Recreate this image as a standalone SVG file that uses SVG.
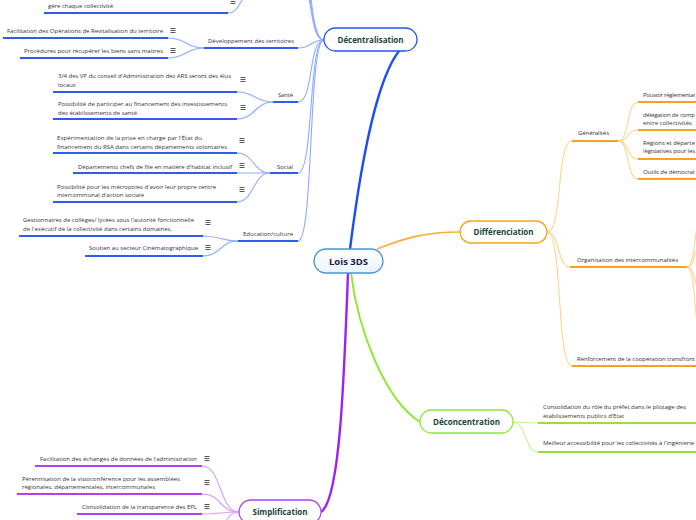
<svg xmlns="http://www.w3.org/2000/svg" xmlns:xlink="http://www.w3.org/1999/xlink" width="696" height="520" viewBox="0 0 696 520">
<defs>
<style>
.t{font-family:"Open Sans","Noto Sans","Liberation Sans",sans-serif;font-size:6px;fill:#333;}
.h{font-family:"Open Sans","Noto Sans","Liberation Sans",sans-serif;font-size:8px;font-weight:bold;fill:#17463a;text-anchor:middle;}
.c{fill:none;stroke-width:1.1;}
.u{fill:none;stroke-width:2;}
.cb{stroke:#8eaaff;} .ub{stroke:#2e5cf0;}
.co{stroke:#fcd48e;} .uo{stroke:#f7a21b;}
.cg{stroke:#c4f08c;} .ug{stroke:#8ee53a;}
.cp{stroke:#d7a0fa;} .up{stroke:#b040f2;}
</style>
<g id="menu"><path d="M-2.5,-2.5H2.5M-2.5,-0.5H2.5M-2.5,1.5H2.5" stroke="#444" stroke-width="0.9" fill="none"/></g>
<linearGradient id="cg" x1="0" y1="0" x2="0" y2="1"><stop offset="0" stop-color="#ffffff"/><stop offset="1" stop-color="#eaf4fd"/></linearGradient>
</defs>
<rect width="696" height="520" fill="#ffffff"/>

<g id="connectors">
<path d="M350,249 C360,170 380,40 417,40" fill="none" stroke="#1f4ff0" stroke-width="2.4"/>
<path d="M377,249 C405,238 425,232 460,232" fill="none" stroke="#f9ad3c" stroke-width="1.6"/>
<path d="M351,273 C358,330 385,400 420,422" fill="none" stroke="#8ee830" stroke-width="2"/>
<path d="M348,273 C344,380 340,500 321,512" fill="none" stroke="#a020f0" stroke-width="2.4"/>
<path class="c cb" d="M324,40 C308,40 314,-20 298,-20"/>
<path class="c cb" d="M324,40 C306,40 312,-60 296,-60"/>
<path class="c cb" d="M324,40 C305,40 311,-100 295,-100"/>
<path class="c cb" d="M298,48 C312,48 310,40 324,40"/>
<path class="c cb" d="M298,102 C314,102 308,40 324,40"/>
<path class="c cb" d="M298,173 C314,173 308,40 324,40"/>
<path class="c cb" d="M298,241 C314,241 308,40 324,40"/>
<path class="c cb" d="M228,13 C242,13 240,-10 256,-10"/>
<path class="c cb" d="M168,38 C186,38 186,48 204,48"/>
<path class="c cb" d="M168,58 C186,58 186,48 204,48"/>
<path class="c cb" d="M237,92 C255,92 255,102 273,102"/>
<path class="c cb" d="M237,119 C255,119 255,102 273,102"/>
<path class="c cb" d="M237,153 C254,153 253,173 270,173"/>
<path class="c cb" d="M237,173 H270"/>
<path class="c cb" d="M237,202 C254,202 253,173 270,173"/>
<path class="c cb" d="M203,236 C220,236 221,241 238,241"/>
<path class="c cb" d="M203,256 C220,256 221,241 238,241"/>
<path class="c co" d="M547,232 C563,232 556,141 572,141"/>
<path class="c co" d="M547,232 C560,232 557,267 570,267"/>
<path class="c co" d="M547,232 C563,232 556,366 572,366"/>
<path class="c co" d="M618,141 C630,141 626,102 638,102"/>
<path class="c co" d="M618,141 C630,141 626,130 638,130"/>
<path class="c co" d="M618,141 C630,141 626,159 638,159"/>
<path class="c co" d="M618,141 C630,141 626,179 638,179"/>
<path class="c co" d="M687,267 C697,267 693,210 705,210"/>
<path class="c co" d="M687,267 C697,267 693,240 705,240"/>
<path class="c co" d="M687,267 C697,267 693,295 705,295"/>
<path class="c co" d="M687,267 C697,267 693,345 705,345"/>
<path class="c cg" d="M513,422 C525,422 526,423 538,423"/>
<path class="c cg" d="M513,422 C526,422 525,452 538,452"/>
<path class="c cp" d="M202,466 C222,466 219,512 239,512"/>
<path class="c cp" d="M202,494 C222,494 219,512 239,512"/>
<path class="c cp" d="M202,514 C222,514 219,512 239,512"/>
<path class="c cp" d="M239,512 C222,512 225,540 205,540"/>
</g>

<g id="lois3ds">
<rect x="314" y="249" width="69" height="24" rx="12" fill="url(#cg)" stroke="#4a94d4" stroke-width="1.3"/>
<text x="348.5" y="264.5" class="h" style="font-size:9.5px;fill:#17224a" textLength="39">Lois 3DS</text>
</g>

<g id="decentralisation">
<rect x="324" y="28" width="93" height="23" rx="11.5" fill="#fff" stroke="#1f55f0" stroke-width="1.3"/>
<text x="370.5" y="42.8" class="h" textLength="66">Décentralisation</text>
</g>

<g id="n-gere">
<text x="48" y="8" class="t" textLength="65">gère chaque collectivité</text>
<use xlink:href="#menu" x="233" y="2"/>
<path class="u ub" d="M44,13 H228"/>
</g>
<g id="n-devterr">
<text x="208" y="43" class="t" textLength="86">Développement des territoires</text>
<path class="u ub" d="M204,48 H298"/>
</g>
<g id="n-facil-ort">
<text x="7" y="33" class="t" textLength="156">Facilitation des Opérations de Revitalisation du territoire</text>
<use xlink:href="#menu" x="173" y="31"/>
<path class="u ub" d="M3,38 H168"/>
</g>
<g id="n-biens">
<text x="24" y="53" class="t" textLength="139">Procédures pour récupérer les biens sans maitres</text>
<use xlink:href="#menu" x="173" y="51"/>
<path class="u ub" d="M20,58 H168"/>
</g>
<g id="n-sante">
<text x="278" y="97" class="t" textLength="15">Santé</text>
<path class="u ub" d="M273,102 H298"/>
</g>
<g id="n-ars">
<text x="58" y="78" class="t" textLength="173">3/4 des VP du conseil d'Administration des ARS seront des élus</text>
<text x="58" y="87" class="t" textLength="18">locaux</text>
<use xlink:href="#menu" x="243" y="80"/>
<path class="u ub" d="M53,92 H237"/>
</g>
<g id="n-invest">
<text x="58" y="106" class="t" textLength="169">Possibilité de participer au financement des investissements</text>
<text x="58" y="115" class="t" textLength="79">des établissements de santé</text>
<use xlink:href="#menu" x="243" y="108"/>
<path class="u ub" d="M53,119 H237"/>
</g>
<g id="n-social">
<text x="277" y="169" class="t" textLength="16">Social</text>
<path class="u ub" d="M270,173 H298"/>
</g>
<g id="n-rsa">
<text x="57" y="140" class="t" textLength="145">Expérimentation de la prise en charge par l'État du</text>
<text x="57" y="149" class="t" textLength="170">financement du RSA dans certains départements volontaires</text>
<use xlink:href="#menu" x="242" y="141"/>
<path class="u ub" d="M53,153 H237"/>
</g>
<g id="n-habitat">
<text x="78" y="169" class="t" textLength="154">Départements chefs de file en matière d'habitat inclusif</text>
<use xlink:href="#menu" x="242" y="166"/>
<path class="u ub" d="M73,173 H237"/>
</g>
<g id="n-ccas">
<text x="57" y="189" class="t" textLength="159">Possibilité pour les métropoles d'avoir leur propre centre</text>
<text x="57" y="197" class="t" textLength="87">intercommunal d'action sociale</text>
<use xlink:href="#menu" x="242" y="190"/>
<path class="u ub" d="M53,202 H237"/>
</g>
<g id="n-educ">
<text x="243" y="236" class="t" textLength="50">Education/culture</text>
<path class="u ub" d="M238,241 H298"/>
</g>
<g id="n-colleges">
<text x="23" y="222" class="t" textLength="171">Gestionnaires de collèges/ lycées sous l'autorité fonctionnelle</text>
<text x="23" y="231" class="t" textLength="149">de l'exécutif de la collectivité dans certains domaines.</text>
<use xlink:href="#menu" x="208" y="223"/>
<path class="u ub" d="M19,236 H203"/>
</g>
<g id="n-cine">
<text x="89" y="250" class="t" textLength="109">Soutien au secteur Cinématographique</text>
<use xlink:href="#menu" x="208" y="248"/>
<path class="u ub" d="M85,256 H203"/>
</g>

<g id="differenciation">
<rect x="460" y="221" width="87" height="22" rx="11" fill="#fff" stroke="#f7a21b" stroke-width="1.3"/>
<text x="503.5" y="234.8" class="h" textLength="60">Différenciation</text>
</g>
<g id="n-generalites">
<text x="578" y="135" class="t" textLength="31">Généralités</text>
<path class="u uo" d="M572,141 H618"/>
</g>
<g id="n-pouvoir">
<text x="643" y="97" class="t" textLength="52">Pouvoir réglementai</text>
<path class="u uo" d="M638,102 H700"/>
</g>
<g id="n-delegation">
<text x="643" y="117" class="t" textLength="52">délégation de comp</text>
<text x="643" y="125" class="t">entre collectivités</text>
<path class="u uo" d="M638,130 H700"/>
</g>
<g id="n-regions">
<text x="643" y="145" class="t" textLength="52">Régions et départe</text>
<text x="643" y="153" class="t" textLength="52">législatives pour les</text>
<path class="u uo" d="M638,159 H700"/>
</g>
<g id="n-outils">
<text x="643" y="174" class="t" textLength="52">Outils de démocrat</text>
<path class="u uo" d="M638,179 H700"/>
</g>
<g id="n-interco">
<text x="577" y="262" class="t" textLength="101">Organisation des intercommunalités</text>
<path class="u uo" d="M570,267 H687"/>
</g>
<g id="n-transfront">
<text x="577" y="361" class="t" textLength="118">Renforcement de la coopération transfront</text>
<path class="u uo" d="M572,366 H700"/>
</g>

<g id="deconcentration">
<rect x="420" y="410" width="93" height="23" rx="11.5" fill="#fff" stroke="#8ee53a" stroke-width="1.3"/>
<text x="466.5" y="424.8" class="h" textLength="67">Déconcentration</text>
</g>
<g id="n-prefet">
<text x="543" y="409" class="t" textLength="143">Consolidation du rôle du préfet dans le pilotage des</text>
<text x="543" y="418" class="t">établissements publics d'Etat</text>
<path class="u ug" d="M538,423 H700"/>
</g>
<g id="n-ingenierie">
<text x="543" y="445" class="t" textLength="151">Meilleur accessibilité pour les collectivités à l'ingénierie</text>
<path class="u ug" d="M538,452 H700"/>
</g>

<g id="simplification">
<rect x="239" y="500" width="82" height="24" rx="12" fill="#fff" stroke="#b040f2" stroke-width="1.3"/>
<text x="280" y="515" class="h" textLength="55">Simplification</text>
</g>
<g id="n-echanges">
<text x="40" y="461" class="t" textLength="157">Facilitation des échanges de données de l'administration</text>
<use xlink:href="#menu" x="207" y="459"/>
<path class="u up" d="M35,466 H202"/>
</g>
<g id="n-visio">
<text x="22" y="481" class="t" textLength="158">Pérennisation de la visioconférence pour les assemblées</text>
<text x="22" y="489" class="t" textLength="133">régionales, départementales, intercommunales</text>
<use xlink:href="#menu" x="207" y="483"/>
<path class="u up" d="M17,494 H202"/>
</g>
<g id="n-epl">
<text x="82" y="509" class="t" textLength="115">Consolidation de la transparence des EPL</text>
<use xlink:href="#menu" x="207" y="507"/>
<path class="u up" d="M77,514 H202"/>
</g>
</svg>
